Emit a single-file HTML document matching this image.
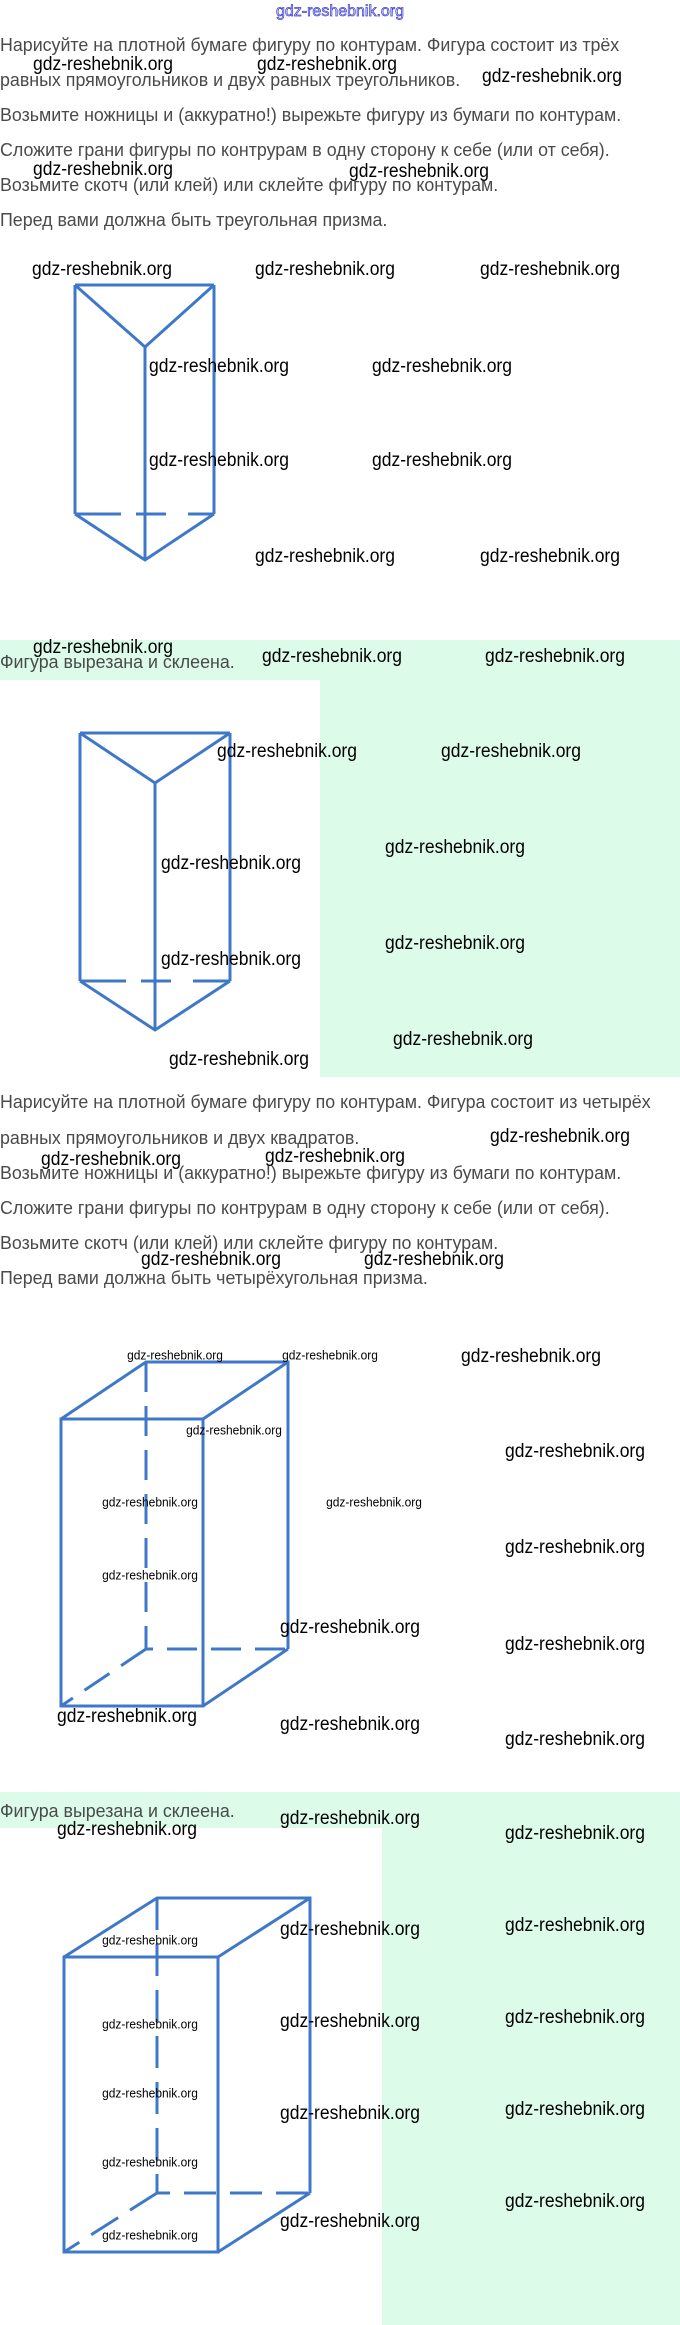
<!DOCTYPE html>
<html><head><meta charset="utf-8"><style>
body{margin:0;width:680px;height:2325px;position:relative;background:#fff;overflow:hidden;font-family:"Liberation Sans",sans-serif}
.t{position:absolute;left:0;font-size:18px;color:#4a4a4a;white-space:nowrap;line-height:20px;transform:translateY(-10px) scaleX(0.99);transform-origin:0 50%}
.w{position:absolute;font-size:19px;color:#000;white-space:nowrap;transform:translate(-50%,-50%) scaleX(0.92);line-height:22px}
.s{position:absolute;font-size:13px;color:#000;white-space:nowrap;transform:translate(-50%,-50%) scaleX(0.92);line-height:15px}
.g{position:absolute;background:#dcfce9}
.wb{position:absolute;background:#fff}
</style></head><body>
<div class="g" style="left:0;top:640px;width:680px;height:437px"></div>
<div class="wb" style="left:0;top:680px;width:320px;height:397px"></div>
<div class="g" style="left:0;top:1792px;width:680px;height:533px"></div>
<div class="wb" style="left:0;top:1828px;width:382px;height:497px"></div>

<div style="position:absolute;left:340px;top:12px;transform:translate(-50%,-50%);font-size:16px;color:#dde;-webkit-text-stroke:0.7px #3a3ad0;white-space:nowrap">gdz-reshebnik.org</div>

<div class="t" style="top:45px">Нарисуйте на плотной бумаге фигуру по контурам. Фигура состоит из трёх</div>
<div class="t" style="top:80px">равных прямоугольников и двух равных треугольников.</div>
<div class="t" style="top:115px">Возьмите ножницы и (аккуратно!) вырежьте фигуру из бумаги по контурам.</div>
<div class="t" style="top:150px">Сложите грани фигуры по контрурам в одну сторону к себе (или от себя).</div>
<div class="t" style="top:185px">Возьмите скотч (или клей) или склейте фигуру по контурам.</div>
<div class="t" style="top:220px">Перед вами должна быть треугольная призма.</div>

<div class="t" style="top:662px">Фигура вырезана и склеена.</div>

<div class="t" style="top:1102px">Нарисуйте на плотной бумаге фигуру по контурам. Фигура состоит из четырёх</div>
<div class="t" style="top:1138px">равных прямоугольников и двух квадратов.</div>
<div class="t" style="top:1173px">Возьмите ножницы и (аккуратно!) вырежьте фигуру из бумаги по контурам.</div>
<div class="t" style="top:1208px">Сложите грани фигуры по контрурам в одну сторону к себе (или от себя).</div>
<div class="t" style="top:1243px">Возьмите скотч (или клей) или склейте фигуру по контурам.</div>
<div class="t" style="top:1278px">Перед вами должна быть четырёхугольная призма.</div>

<div class="t" style="top:1811px">Фигура вырезана и склеена.</div>

<svg style="position:absolute;left:0;top:0" width="680" height="2325" fill="none" stroke="#3f78c8" stroke-width="3">
<path d="M75 285 H214 M75 285 V514 M214 285 V514 M75 285 L145 347 L214 285 M145 347 V560 M75 514 L145 560 L214 514"/>
<path d="M75 514 H121 M136 514 H166 M188 514 H214"/>
<path d="M80 733 H230 M80 733 V981 M230 733 V981 M80 733 L155 783 L230 733 M155 783 V1030 M80 981 L155 1030 L230 981"/>
<path d="M80 981 H126 M141 981 H171 M193 981 H230"/>
<path d="M61 1419 H203 V1706 H61 Z M61 1419 L146 1362 H288 V1649 M203 1419 L288 1362 M203 1706 L288 1649"/>
<path d="M146 1362 V1649 H288 M146 1649 L61 1706" stroke-dasharray="30 14"/>
<path d="M64 1957 H218 V2252 H64 Z M64 1957 L157 1898 H310 V2193 M218 1957 L310 1898 M218 2252 L310 2193"/>
<path d="M157 1898 V2193 H310 M157 2193 L64 2252" stroke-dasharray="32 14"/>
</svg>

<div class="w" style="left:103px;top:65px">gdz-reshebnik.org</div>
<div class="w" style="left:327px;top:65px">gdz-reshebnik.org</div>
<div class="w" style="left:552px;top:77px">gdz-reshebnik.org</div>
<div class="w" style="left:103px;top:170px">gdz-reshebnik.org</div>
<div class="w" style="left:419px;top:172px">gdz-reshebnik.org</div>
<div class="w" style="left:102px;top:270px">gdz-reshebnik.org</div>
<div class="w" style="left:325px;top:270px">gdz-reshebnik.org</div>
<div class="w" style="left:550px;top:270px">gdz-reshebnik.org</div>
<div class="w" style="left:219px;top:367px">gdz-reshebnik.org</div>
<div class="w" style="left:442px;top:367px">gdz-reshebnik.org</div>
<div class="w" style="left:219px;top:461px">gdz-reshebnik.org</div>
<div class="w" style="left:442px;top:461px">gdz-reshebnik.org</div>
<div class="w" style="left:325px;top:557px">gdz-reshebnik.org</div>
<div class="w" style="left:550px;top:557px">gdz-reshebnik.org</div>
<div class="w" style="left:103px;top:648px">gdz-reshebnik.org</div>
<div class="w" style="left:332px;top:657px">gdz-reshebnik.org</div>
<div class="w" style="left:555px;top:657px">gdz-reshebnik.org</div>
<div class="w" style="left:287px;top:752px">gdz-reshebnik.org</div>
<div class="w" style="left:511px;top:752px">gdz-reshebnik.org</div>
<div class="w" style="left:455px;top:848px">gdz-reshebnik.org</div>
<div class="w" style="left:231px;top:864px">gdz-reshebnik.org</div>
<div class="w" style="left:455px;top:944px">gdz-reshebnik.org</div>
<div class="w" style="left:231px;top:960px">gdz-reshebnik.org</div>
<div class="w" style="left:463px;top:1040px">gdz-reshebnik.org</div>
<div class="w" style="left:239px;top:1060px">gdz-reshebnik.org</div>
<div class="w" style="left:560px;top:1137px">gdz-reshebnik.org</div>
<div class="w" style="left:111px;top:1160px">gdz-reshebnik.org</div>
<div class="w" style="left:335px;top:1157px">gdz-reshebnik.org</div>
<div class="w" style="left:211px;top:1260px">gdz-reshebnik.org</div>
<div class="w" style="left:434px;top:1260px">gdz-reshebnik.org</div>
<div class="s" style="left:175px;top:1355px">gdz-reshebnik.org</div>
<div class="s" style="left:330px;top:1355px">gdz-reshebnik.org</div>
<div class="s" style="left:234px;top:1430px">gdz-reshebnik.org</div>
<div class="s" style="left:150px;top:1502px">gdz-reshebnik.org</div>
<div class="s" style="left:374px;top:1502px">gdz-reshebnik.org</div>
<div class="s" style="left:150px;top:1575px">gdz-reshebnik.org</div>
<div class="w" style="left:531px;top:1357px">gdz-reshebnik.org</div>
<div class="w" style="left:575px;top:1452px">gdz-reshebnik.org</div>
<div class="w" style="left:575px;top:1548px">gdz-reshebnik.org</div>
<div class="w" style="left:350px;top:1628px">gdz-reshebnik.org</div>
<div class="w" style="left:575px;top:1645px">gdz-reshebnik.org</div>
<div class="w" style="left:127px;top:1717px">gdz-reshebnik.org</div>
<div class="w" style="left:350px;top:1725px">gdz-reshebnik.org</div>
<div class="w" style="left:575px;top:1740px">gdz-reshebnik.org</div>
<div class="w" style="left:127px;top:1830px">gdz-reshebnik.org</div>
<div class="w" style="left:350px;top:1819px">gdz-reshebnik.org</div>
<div class="w" style="left:575px;top:1834px">gdz-reshebnik.org</div>
<div class="w" style="left:350px;top:1930px">gdz-reshebnik.org</div>
<div class="w" style="left:575px;top:1926px">gdz-reshebnik.org</div>
<div class="w" style="left:350px;top:2022px">gdz-reshebnik.org</div>
<div class="w" style="left:575px;top:2018px">gdz-reshebnik.org</div>
<div class="w" style="left:350px;top:2114px">gdz-reshebnik.org</div>
<div class="w" style="left:575px;top:2110px">gdz-reshebnik.org</div>
<div class="w" style="left:575px;top:2202px">gdz-reshebnik.org</div>
<div class="w" style="left:350px;top:2222px">gdz-reshebnik.org</div>
<div class="s" style="left:150px;top:1940px">gdz-reshebnik.org</div>
<div class="s" style="left:150px;top:2024px">gdz-reshebnik.org</div>
<div class="s" style="left:150px;top:2093px">gdz-reshebnik.org</div>
<div class="s" style="left:150px;top:2162px">gdz-reshebnik.org</div>
<div class="s" style="left:150px;top:2235px">gdz-reshebnik.org</div>
</body></html>
